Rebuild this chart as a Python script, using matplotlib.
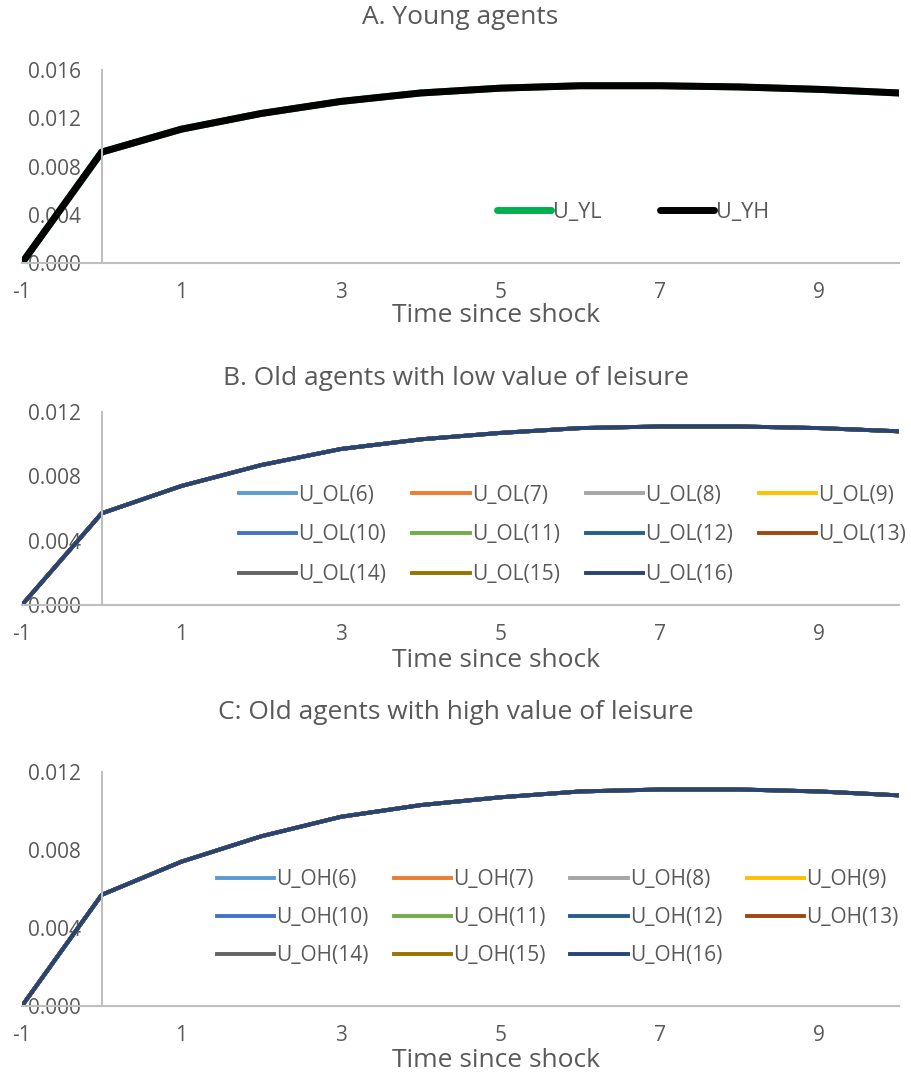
import matplotlib
matplotlib.use("Agg")
from matplotlib import pyplot as plt

plt.rcParams['font.family'] = ['Open Sans', 'DejaVu Sans']
plt.rcParams['axes.unicode_minus'] = False

# time since shock
t = [-1, 0, 1, 2, 3, 4, 5, 6, 7, 8, 9, 10]

# A. young agents
u_yl = [0.0, 0.0092, 0.0111, 0.0124, 0.0134, 0.0141, 0.0145, 0.0147, 0.0147, 0.0146, 0.0144, 0.0141]
u_yh = [0.0, 0.0092, 0.0111, 0.0124, 0.0134, 0.0141, 0.0145, 0.0147, 0.0147, 0.0146, 0.0144, 0.0141]

# B/C. old agents, curves by age (all overlap in the picture)
ages = [6, 7, 8, 9, 10, 11, 12, 13, 14, 15, 16]
u_ol = [0.0, 0.0057, 0.0074, 0.0087, 0.0097, 0.0103, 0.0107, 0.0110, 0.0111, 0.0111, 0.0110, 0.0108]
u_oh = [0.0, 0.0057, 0.0074, 0.0087, 0.0097, 0.0103, 0.0107, 0.0110, 0.0111, 0.0111, 0.0110, 0.0108]

age_colors = ['#5B9BD5', '#ED7D31', '#A5A5A5', '#FFC000', '#4472C4', '#70AD47',
              '#255E91', '#9E480E', '#636363', '#997300', '#264478']

text_col = '#595959'
axis_col = '#BFBFBF'

fig = plt.figure(figsize=(9.11, 10.78), dpi=100)

# axes boxes in figure fractions (left, bottom, width, height)
axA = fig.add_axes([0.0241, 0.756, 0.9627, 0.179])
axB = fig.add_axes([0.0241, 0.4388, 0.9627, 0.179])
axC = fig.add_axes([0.0241, 0.0668, 0.9627, 0.2171])


def style(ax, ymax, yticks, title, title_y, title_x, xlab_y):
    ax.set_xlim(-1, 10)
    ax.set_ylim(0, ymax)
    for s in ['top', 'right']:
        ax.spines[s].set_visible(False)
    ax.spines['left'].set_position(('data', 0))
    ax.spines['left'].set_color(axis_col)
    ax.spines['left'].set_linewidth(1.5)
    ax.spines['bottom'].set_color(axis_col)
    ax.spines['bottom'].set_linewidth(1.5)
    ax.set_yticks(yticks)
    ax.set_yticklabels(['%.3f' % v for v in yticks])
    ax.set_xticks([-1, 1, 3, 5, 7, 9])
    ax.tick_params(axis='y', length=0, pad=15, labelsize=15, labelcolor=text_col)
    ax.tick_params(axis='x', length=0, pad=14, labelsize=15, labelcolor=text_col)
    ax.set_xlabel('Time since shock', fontsize=19, color=text_col)
    ax.xaxis.set_label_coords(0.54, xlab_y)
    ax.xaxis.label.set_va('center')
    ax.text(title_x, title_y, title, transform=ax.transAxes, ha='center', va='center',
            fontsize=19, color=text_col)


def row_order(items, ncol):
    # Excel fills legend rows first, matplotlib fills columns first
    rows = (len(items) + ncol - 1) // ncol
    out = []
    for c in range(ncol):
        for r in range(rows):
            i = r * ncol + c
            if i < len(items):
                out.append(items[i])
    return out


# panel A
axA.plot(t, u_yl, color='#00B050', lw=5, label='U_YL', solid_capstyle='round', solid_joinstyle='round')
axA.plot(t, u_yh, color='black', lw=5, label='U_YH', solid_capstyle='round', solid_joinstyle='round')
style(axA, 0.016, [0, 0.004, 0.008, 0.012, 0.016], 'A. Young agents', 1.27, 0.5, -0.27)
axA.legend(loc='center', bbox_to_anchor=(0.697, 0.264), ncol=2, frameon=False,
           fontsize=15.5, labelcolor=text_col, handlelength=2.5, handletextpad=0.1,
           columnspacing=2.7)

# panel B
for a, c in zip(ages, age_colors):
    axB.plot(t, u_ol, color=c, lw=2.8, label='U_OL(%d)' % a, solid_joinstyle='round')
style(axB, 0.012, [0, 0.004, 0.008, 0.012], 'B. Old agents with low value of leisure', 1.176, 0.495, -0.29)
h, l = axB.get_legend_handles_labels()
axB.legend(row_order(h, 4), row_order(l, 4), loc='center', bbox_to_anchor=(0.628, 0.363),
           ncol=4, frameon=False, fontsize=15, labelcolor=text_col, handlelength=2.75,
           handletextpad=0.1, columnspacing=1.25, labelspacing=0.9)

# panel C
for a, c in zip(ages, age_colors):
    axC.plot(t, u_oh, color=c, lw=2.8, label='U_OH(%d)' % a, solid_joinstyle='round')
style(axC, 0.012, [0, 0.004, 0.008, 0.012], 'C: Old agents with high value of leisure', 1.252, 0.495, -0.235)
h, l = axC.get_legend_handles_labels()
axC.legend(row_order(h, 4), row_order(l, 4), loc='center', bbox_to_anchor=(0.611, 0.378),
           ncol=4, frameon=False, fontsize=15, labelcolor=text_col, handlelength=2.75,
           handletextpad=0.1, columnspacing=1.2, labelspacing=0.82)

fig.savefig('out.png', dpi=100)
